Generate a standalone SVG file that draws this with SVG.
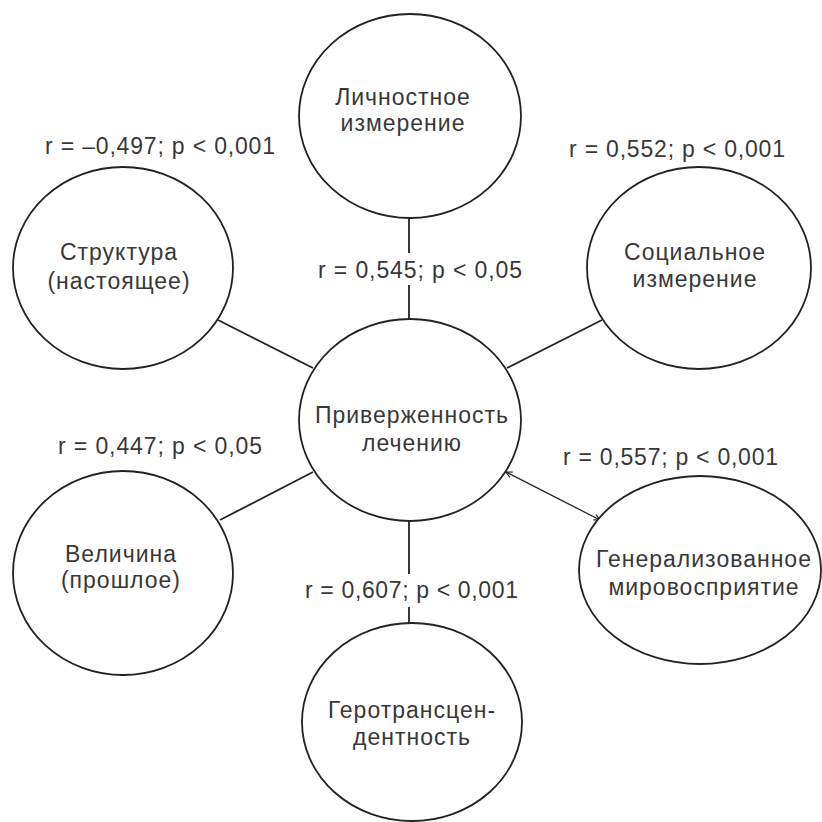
<svg xmlns="http://www.w3.org/2000/svg" width="822" height="822" viewBox="0 0 822 822">
<style>
.node{fill:#fff;stroke:#222;stroke-width:1.8}
.t{font-family:"Liberation Sans",Arial,sans-serif;font-size:23px;fill:#383838;text-anchor:middle;letter-spacing:1px}
.lbl{font-family:"Liberation Sans",Arial,sans-serif;font-size:23px;fill:#383838}
.con{stroke:#222;stroke-width:1.8;fill:none}
.thin{stroke:#222;stroke-width:1.3;fill:none}
</style>
<defs>
<marker id="ah" markerWidth="8" markerHeight="8" refX="7" refY="4" orient="auto-start-reverse" markerUnits="userSpaceOnUse">
<path d="M1,1 L7,4 L1,7" fill="none" stroke="#222" stroke-width="1.2"/>
</marker>
</defs>
<rect width="822" height="822" fill="#fff"/>
<g id="connectors">
<path class="con" d="M409,218 L409,253 M409,285 L409,319"/>
<path class="con" d="M218,320 L313,368"/>
<path class="con" d="M602,320 L507,368"/>
<path class="con" d="M220,520 L313,472"/>
<path class="thin" d="M506,472 L600,520" marker-start="url(#ah)" marker-end="url(#ah)"/>
<path class="con" d="M409,521 L409,574 M409,607 L409,623"/>
</g>
<g id="labels">
<text class="lbl" x="45" y="154" textLength="230" lengthAdjust="spacing">r = –0,497; p &lt; 0,001</text>
<text class="lbl" x="569" y="157" textLength="216" lengthAdjust="spacing">r = 0,552; p &lt; 0,001</text>
<text class="lbl" x="318" y="278" textLength="204" lengthAdjust="spacing">r = 0,545; p &lt; 0,05</text>
<text class="lbl" x="58" y="454" textLength="204" lengthAdjust="spacing">r = 0,447; p &lt; 0,05</text>
<text class="lbl" x="563" y="465" textLength="215" lengthAdjust="spacing">r = 0,557; p &lt; 0,001</text>
<text class="lbl" x="305" y="598" textLength="213" lengthAdjust="spacing">r = 0,607; p &lt; 0,001</text>
</g>
<g id="node-personal">
<ellipse class="node" cx="410" cy="116" rx="111" ry="102"/>
<text class="t" x="403" y="105">Личностное</text>
<text class="t" x="403" y="131">измерение</text>
</g>
<g id="node-structure">
<ellipse class="node" cx="123" cy="268" rx="110" ry="101"/>
<text class="t" x="119" y="260">Структура</text>
<text class="t" x="119" y="289">(настоящее)</text>
</g>
<g id="node-social">
<ellipse class="node" cx="699" cy="268" rx="112" ry="101"/>
<text class="t" x="695" y="260">Социальное</text>
<text class="t" x="695" y="287">измерение</text>
</g>
<g id="node-adherence">
<ellipse class="node" cx="410" cy="420" rx="111" ry="101"/>
<text class="t" x="412" y="423">Приверженность</text>
<text class="t" x="412" y="451">лечению</text>
</g>
<g id="node-magnitude">
<ellipse class="node" cx="123" cy="573" rx="110" ry="102"/>
<text class="t" x="121" y="562">Величина</text>
<text class="t" x="121" y="588">(прошлое)</text>
</g>
<g id="node-worldview">
<ellipse class="node" cx="700" cy="570" rx="121" ry="94"/>
<text class="t" x="704" y="567">Генерализованное</text>
<text class="t" x="704" y="595">мировосприятие</text>
</g>
<g id="node-gerotranscendence">
<ellipse class="node" cx="412" cy="722" rx="110" ry="99"/>
<text class="t" x="412" y="718">Геротрансцен-</text>
<text class="t" x="412" y="745">дентность</text>
</g>
</svg>
